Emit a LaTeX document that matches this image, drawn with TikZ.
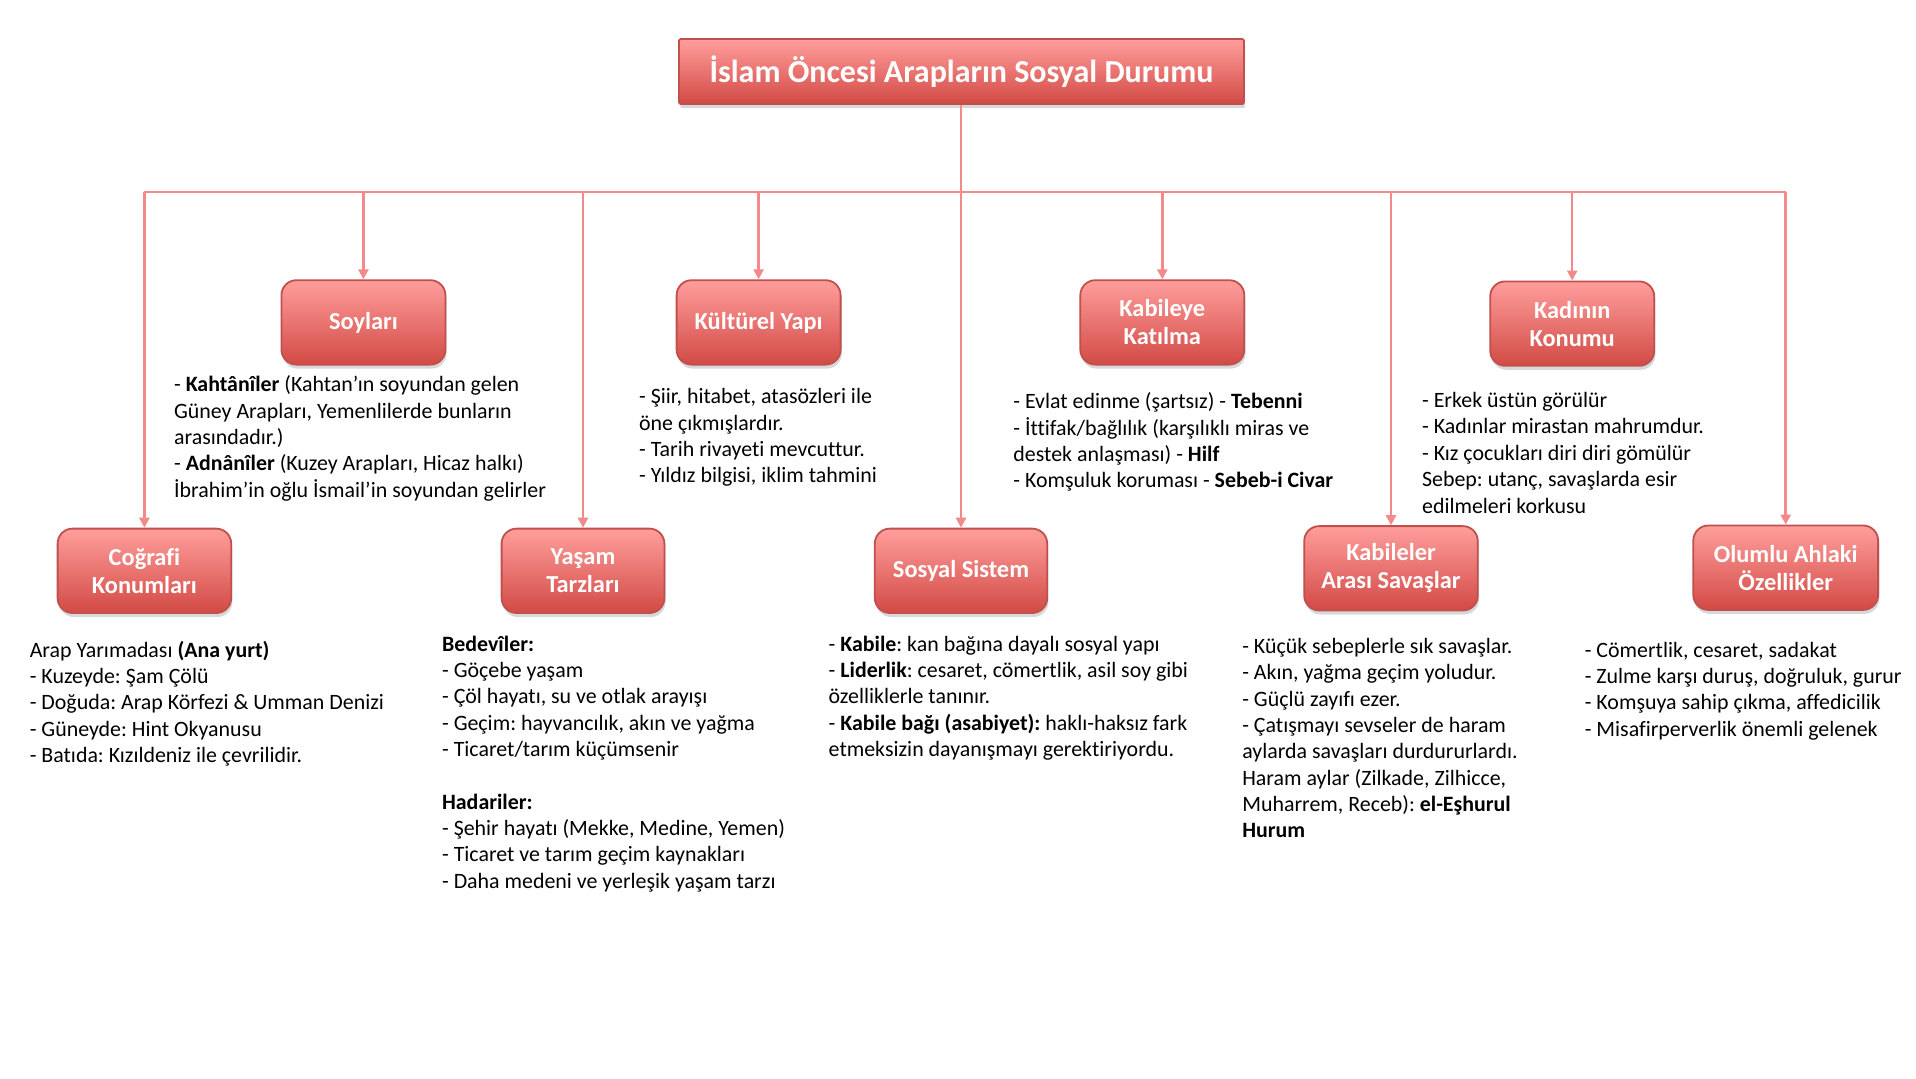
\documentclass[tikz,border=0pt]{standalone}
\usepackage{fontspec}
\setmainfont{Carlito}[Ligatures=NoCommon]
\usetikzlibrary{arrows.meta,shadows}
\definecolor{boxtop}{HTML}{FF9E9C}
\definecolor{boxbot}{HTML}{D24A45}
\definecolor{boxline}{HTML}{C0504D}
\definecolor{conncol}{HTML}{F4898B}
\frenchspacing
\begin{document}
\begin{tikzpicture}[x=0.5pt,y=-0.5pt,
 box/.style={rounded corners=7.5pt, draw=boxline, line width=0.9pt, top color=boxtop, bottom color=boxbot, text=white, font=\bfseries\fontsize{12.2}{14}\selectfont, align=center, minimum height=42.2pt, inner sep=2pt, drop shadow={opacity=0.3, shadow xshift=0.6pt, shadow yshift=-2pt}},
 titlebox/.style={box, rounded corners=1pt, font=\bfseries\fontsize{16}{19}\selectfont, minimum height=32.5pt, minimum width=282.5pt},
 body/.style={anchor=north west, inner sep=0pt, align=left, font=\fontsize{10.95}{13.18}\selectfont},
 conn/.style={draw=conncol, line width=1.25pt},
 arr/.style={conn, -{Triangle[width=5pt,length=5pt]}}]
\fill[white] (0,0) rectangle (1916,1078);
\useasboundingbox (0,0) rectangle (1916,1078);

\node[titlebox] (title) at (961.5,71.5) {İslam Öncesi Arapların Sosyal Durumu};
\node[box, minimum width=82pt] (soy) at (363.4,322.4) {Soyları};
\node[box, minimum width=82pt] (kul) at (758.6,322.4) {Kültürel Yapı};
\node[box, minimum width=82pt] (kat) at (1162.3,322.4) {Kabileye\\Katılma};
\node[box, minimum width=82pt] (kad) at (1572.2,323.6) {Kadının\\Konumu};
\node[box, minimum width=86.8pt] (cog) at (144.4,570.8) {Coğrafi\\Konumları};
\node[box, minimum width=81.4pt] (yas) at (583,570.8) {Yaşam\\Tarzları};
\node[box, minimum width=86.2pt] (sos) at (961,570.8) {Sosyal Sistem};
\node[box, minimum width=86.8pt] (sav) at (1391,568.3) {Kabileler\\Arası Savaşlar};
\node[box, minimum width=92.4pt] (ahl) at (1785.7,567.7) {Olumlu Ahlaki\\Özellikler};

\coordinate (busL) at (144.4,192);
\coordinate (busR) at (1785.7,192);
\draw[conn] (busL) -- (busR);
\draw[arr] (sos.north |- title.south) -- (sos.north);
\foreach \n in {cog,soy,yas,kul,kat,sav,kad,ahl}
  \draw[arr] (\n.north |- busL) -- (\n.north);

\node[body] (tsoy) at (173.7,372.8) {\strut- \textbf{Kahtânîler} (Kahtan’ın soyundan gelen\\Güney Arapları, Yemenlilerde bunların\\arasındadır.)\\- \textbf{Adnânîler} (Kuzey Arapları, Hicaz halkı)\\İbrahim’in oğlu İsmail’in soyundan gelirler};
\node[body] (tkul) at (638.7,385) {\strut- Şiir, hitabet, atasözleri ile\\öne çıkmışlardır.\\- Tarih rivayeti mevcuttur.\\- Yıldız bilgisi, iklim tahmini};
\node[body] (tkat) at (1013,389.9) {\strut- Evlat edinme (şartsız) - \textbf{Tebenni}\\- İttifak/bağlılık (karşılıklı miras ve\\destek anlaşması) - \textbf{Hilf}\\- Komşuluk koruması - \textbf{Sebeb-i Civar}};
\node[body] (tkad) at (1421.7,388.7) {\strut- Erkek üstün görülür\\- Kadınlar mirastan mahrumdur.\\- Kız çocukları diri diri gömülür\\Sebep: utanç, savaşlarda esir\\edilmeleri korkusu};
\node[body] (tcog) at (29.4,638.3) {\strut Arap Yarımadası \textbf{(Ana yurt)}\\- Kuzeyde: Şam Çölü\\- Doğuda: Arap Körfezi \& Umman Denizi\\- Güneyde: Hint Okyanusu\\- Batıda: Kızıldeniz ile çevrilidir.};
\node[body] (tyas) at (441.7,632.2) {\strut\textbf{Bedevîler:}\\- Göçebe yaşam\\- Çöl hayatı, su ve otlak arayışı\\- Geçim: hayvancılık, akın ve yağma\\- Ticaret/tarım küçümsenir\\[13.18pt]\textbf{Hadariler:}\\- Şehir hayatı (Mekke, Medine, Yemen)\\- Ticaret ve tarım geçim kaynakları\\- Daha medeni ve yerleşik yaşam tarzı};
\node[body] (tsos) at (828.3,632.2) {\strut- \textbf{Kabile}: kan bağına dayalı sosyal yapı\\- \textbf{Liderlik}: cesaret, cömertlik, asil soy gibi\\özelliklerle tanınır.\\- \textbf{Kabile bağı (asabiyet):} haklı-haksız fark\\etmeksizin dayanışmayı gerektiriyordu.};
\node[body] (tsav) at (1241.9,634.6) {\strut- Küçük sebeplerle sık savaşlar.\\- Akın, yağma geçim yoludur.\\- Güçlü zayıfı ezer.\\- Çatışmayı sevseler de haram\\aylarda savaşları durdururlardı.\\Haram aylar (Zilkade, Zilhicce,\\Muharrem, Receb): \textbf{el-Eşhurul}\\\textbf{Hurum}};
\node[body] (tahl) at (1584.4,638.3) {\strut- Cömertlik, cesaret, sadakat\\- Zulme karşı duruş, doğruluk, gurur\\- Komşuya sahip çıkma, affedicilik\\- Misafirperverlik önemli gelenek};
\end{tikzpicture}
\end{document}
